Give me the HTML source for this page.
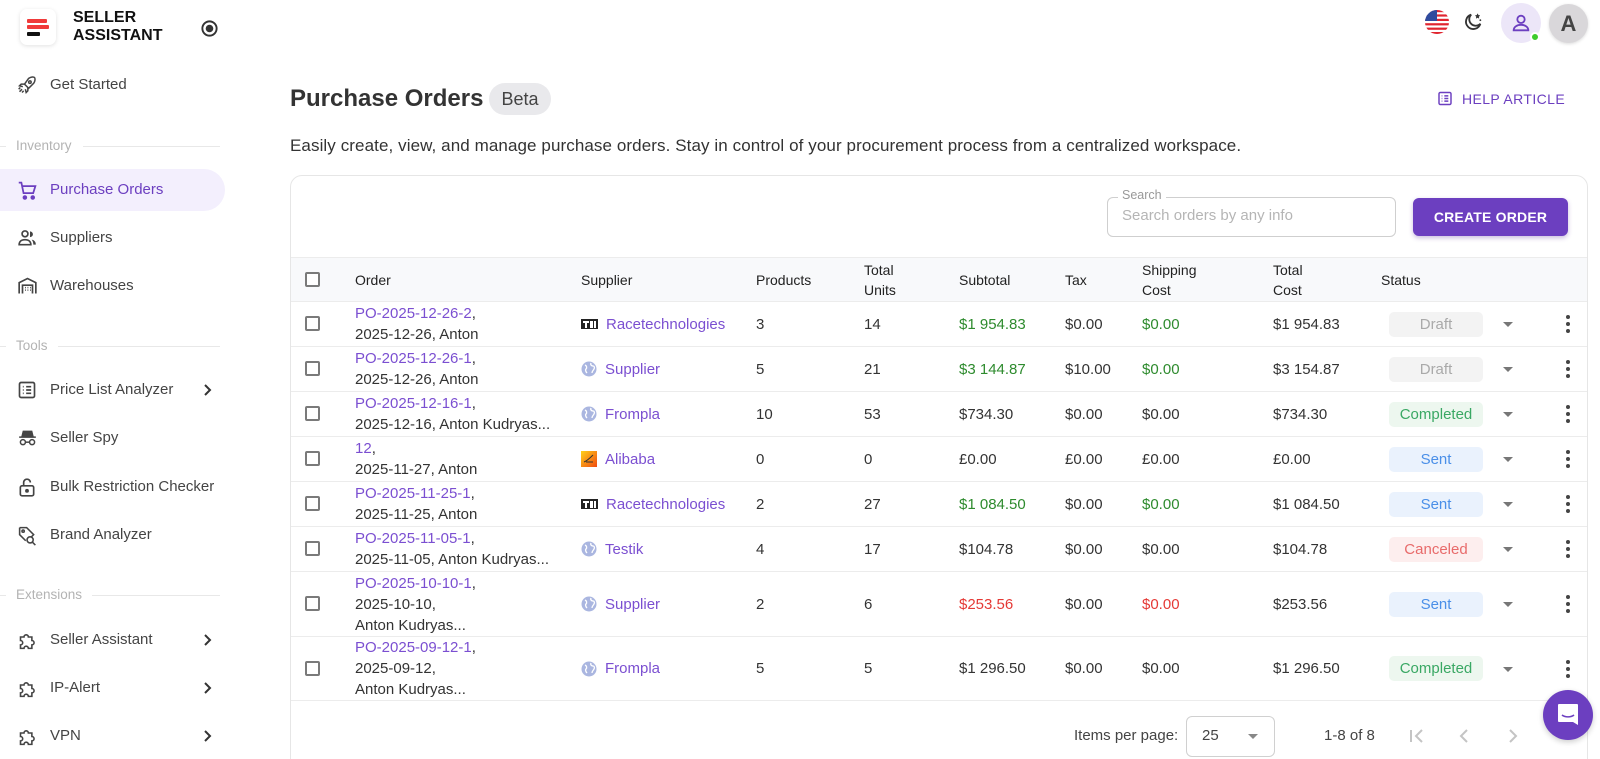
<!DOCTYPE html>
<html><head><meta charset="utf-8">
<style>
*{margin:0;padding:0;box-sizing:border-box}
html,body{width:1600px;height:759px;overflow:hidden;background:#fff}
body{font-family:"Liberation Sans",sans-serif;color:#333}
#root{position:relative;width:1600px;height:759px;overflow:hidden;background:#fff}
.a{position:absolute}
.t{position:absolute;line-height:20px;white-space:nowrap}
.nav{position:absolute;left:0;width:225px;height:42px;font-size:15px;color:#444}
.nav svg{position:absolute;left:17px;top:11px}
.nav span{position:absolute;left:50px;top:11px;line-height:20px}
.nav .chev{position:absolute;left:202px;top:14px}
.sec{position:absolute;left:0;width:220px;height:14px;font-size:13.5px;color:#b3b3b3}
.sec .l1{position:absolute;left:0;top:7px;width:6px;height:1px;background:#e8e8e8}
.sec .lab{position:absolute;left:16px;top:-2px;line-height:18px;background:#fff}
.sec .l2{position:absolute;top:7px;right:0;height:1px;background:#e8e8e8}
.card{position:absolute;left:290px;top:175px;width:1298px;height:620px;border:1px solid #e6e6e6;border-radius:12px;background:#fff}
.hdr{position:absolute;left:291px;top:257px;width:1296px;height:45px;background:#f8f9fb;border-top:1px solid #ececec;border-bottom:1px solid #ececec;font-size:14px;color:#222}
.row{position:absolute;left:291px;width:1296px;border-bottom:1px solid #ececec;font-size:15px;color:#333}
.c{position:absolute;top:0;bottom:0;display:flex;align-items:center;line-height:21px;white-space:nowrap}
.cb{position:absolute;left:14px;top:50%;margin-top:-8px;width:15px;height:15px;border:2px solid #7a7a7a;border-radius:2px}
.lk{color:#7b4fd1}
.g{color:#2e8b2e}
.r{color:#e53935}
.badge{position:absolute;left:1098px;top:50%;margin-top:-12.5px;width:94px;height:25px;border-radius:5px;font-size:15px;text-align:center;line-height:25px}
.draft{background:#f3f3f3;color:#a9a9a9}
.comp{background:#edf7ef;color:#3aa864}
.sent{background:#eaf2fd;color:#4a8fe8}
.canc{background:#fdeeee;color:#e86b6b}
.arr{position:absolute;left:1212px;top:50%;margin-top:-2px;width:0;height:0;border-left:5px solid transparent;border-right:5px solid transparent;border-top:5px solid #777}
.keb{position:absolute;left:1275px;top:50%;margin-top:-9px;width:4px;height:18px}
.keb i{display:block;width:4px;height:4px;border-radius:50%;background:#444;margin-bottom:3px}
.sup{display:flex;align-items:center}
.sup svg{margin-right:8px}
</style></head><body><div id="root">

<!-- Logo -->
<div class="a" style="left:20px;top:9px;width:36px;height:36px;border-radius:7px;background:#fff;box-shadow:0 1px 4px rgba(0,0,0,0.12)"></div>
<div class="a" style="left:27px;top:19px;width:20px;height:4px;background:#f03a3a;border-radius:1px"></div>
<div class="a" style="left:27px;top:25px;width:22px;height:4px;background:#f03a3a;border-radius:1px"></div>
<div class="a" style="left:27px;top:32px;width:13px;height:4px;background:#111;border-radius:1px"></div>
<div class="t" style="left:73px;top:9px;font-size:16px;font-weight:bold;color:#111;line-height:18px">SELLER<br>ASSISTANT</div>
<svg class="a" style="left:200px;top:19px" width="19" height="19" viewBox="0 0 20 20"><circle cx="10" cy="10" r="7.5" fill="none" stroke="#333" stroke-width="2"/><circle cx="10" cy="10" r="4" fill="#333"/></svg>

<!-- Sidebar nav -->
<div class="nav" style="top:64px"><svg width="20" height="20" viewBox="0 0 24 24" fill="none" stroke="#444" stroke-width="1.8"><path d="M14 4c3-2 6-2 7-1 1 1 1 4-1 7l-6 6-5-5z"/><circle cx="15.5" cy="8.5" r="1.5"/><path d="M9 11H5l-2 2 4 1M13 15v4l-2 2-1-4"/><path d="M6 17l-3 3M8 19l-2 2M4 15l-2 2"/></svg><span>Get Started</span></div>

<div class="sec" style="top:139px"><div class="l1"></div><div class="lab">Inventory</div><div class="l2" style="left:83px"></div></div>

<div class="a" style="left:0;top:169px;width:225px;height:42px;background:#f3effd;border-radius:0 21px 21px 0"></div>
<div class="nav" style="top:169px;color:#6c3fc0"><svg width="21" height="21" viewBox="0 0 24 24" fill="none" stroke="#6c3fc0" stroke-width="2"><path d="M2 3h3l2.5 12h11l2.5-8H6.5"/><circle cx="9" cy="20" r="1.6" fill="#6c3fc0"/><circle cx="18" cy="20" r="1.6" fill="#6c3fc0"/></svg><span>Purchase Orders</span></div>

<div class="nav" style="top:217px"><svg width="21" height="20" viewBox="0 0 24 24" fill="#444"><circle cx="9" cy="7" r="3.5" fill="none" stroke="#444" stroke-width="2"/><path d="M2 20c0-4 3-6 7-6s7 2 7 6z" fill="none" stroke="#444" stroke-width="2"/><path d="M15 4a3.5 3.5 0 010 7zM17 14c3 .5 5 2.5 5 6h-3c0-2.5-.8-4.5-2-6z"/></svg><span>Suppliers</span></div>

<div class="nav" style="top:265px"><svg width="21" height="20" viewBox="0 0 24 24" fill="none" stroke="#444" stroke-width="2"><path d="M2 21V8l10-5 10 5v13"/><path d="M6 21V11h12v10"/><path d="M9 14h1M12 14h1M15 14h1M9 17h1M12 17h1M15 17h1" stroke-width="1.8"/></svg><span>Warehouses</span></div>

<div class="sec" style="top:339px"><div class="l1"></div><div class="lab">Tools</div><div class="l2" style="left:58px"></div></div>

<div class="nav" style="top:369px"><svg width="20" height="20" viewBox="0 0 24 24" fill="none" stroke="#444" stroke-width="2"><rect x="3" y="3" width="18" height="18" rx="2"/><path d="M7 8h1M11 8h6M7 12h1M11 12h6M7 16h1M11 16h6"/></svg><span>Price List Analyzer</span><svg class="chev" width="12" height="14" viewBox="0 0 12 14"><path d="M3 2l5 5-5 5" fill="none" stroke="#333" stroke-width="2"/></svg></div>

<div class="nav" style="top:417px"><svg width="21" height="20" viewBox="0 0 24 24" fill="none" stroke="#444" stroke-width="1.8"><path d="M7 4h10l1.5 6h-13z" fill="#444"/><path d="M2 11h20"/><circle cx="6.5" cy="17" r="3"/><circle cx="17.5" cy="17" r="3"/><path d="M9.5 17h5"/></svg><span>Seller Spy</span></div>

<div class="nav" style="top:466px"><svg width="20" height="21" viewBox="0 0 24 24" fill="none" stroke="#444" stroke-width="2"><rect x="4" y="10" width="16" height="12" rx="2"/><path d="M8 10V6a4 4 0 018 0"/><circle cx="12" cy="16" r="1.3" fill="#444"/></svg><span>Bulk Restriction Checker</span></div>

<div class="nav" style="top:514px"><svg width="21" height="21" viewBox="0 0 24 24" fill="none" stroke="#444" stroke-width="1.8"><path d="M3 3h8l8 8-3 3M3 3v8l7 7"/><circle cx="7" cy="7" r="1.3"/><circle cx="15" cy="17" r="3.5"/><path d="M17.5 19.5L21 23"/></svg><span>Brand Analyzer</span></div>

<div class="sec" style="top:588px"><div class="l1"></div><div class="lab">Extensions</div><div class="l2" style="left:92px"></div></div>

<div class="nav" style="top:619px"><svg width="21" height="21" viewBox="0 0 24 24" fill="none" stroke="#444" stroke-width="1.8"><path d="M4 8h4a2.5 2.5 0 115 0h4v4a2.5 2.5 0 110 5v4h-4a2.5 2.5 0 10-5 0H4v-4a2.5 2.5 0 100-5z"/></svg><span>Seller Assistant</span><svg class="chev" width="12" height="14" viewBox="0 0 12 14"><path d="M3 2l5 5-5 5" fill="none" stroke="#333" stroke-width="2"/></svg></div>

<div class="nav" style="top:667px"><svg width="21" height="21" viewBox="0 0 24 24" fill="none" stroke="#444" stroke-width="1.8"><path d="M4 8h4a2.5 2.5 0 115 0h4v4a2.5 2.5 0 110 5v4h-4a2.5 2.5 0 10-5 0H4v-4a2.5 2.5 0 100-5z"/></svg><span>IP-Alert</span><svg class="chev" width="12" height="14" viewBox="0 0 12 14"><path d="M3 2l5 5-5 5" fill="none" stroke="#333" stroke-width="2"/></svg></div>

<div class="nav" style="top:715px"><svg width="21" height="21" viewBox="0 0 24 24" fill="none" stroke="#444" stroke-width="1.8"><path d="M4 8h4a2.5 2.5 0 115 0h4v4a2.5 2.5 0 110 5v4h-4a2.5 2.5 0 10-5 0H4v-4a2.5 2.5 0 100-5z"/></svg><span>VPN</span><svg class="chev" width="12" height="14" viewBox="0 0 12 14"><path d="M3 2l5 5-5 5" fill="none" stroke="#333" stroke-width="2"/></svg></div>

<!-- Top right -->
<svg class="a" style="left:1425px;top:10px" width="24" height="24" viewBox="0 0 24 24"><defs><clipPath id="fc"><circle cx="12" cy="12" r="12"/></clipPath></defs><g clip-path="url(#fc)"><rect width="24" height="24" fill="#fff"/><rect y="0" width="24" height="2.2" fill="#e0242f"/><rect y="4.4" width="24" height="2.2" fill="#e0242f"/><rect y="8.8" width="24" height="2.2" fill="#e0242f"/><rect y="13.2" width="24" height="2.2" fill="#e0242f"/><rect y="17.6" width="24" height="2.2" fill="#e0242f"/><rect y="22" width="24" height="2.2" fill="#e0242f"/><rect width="12" height="11" fill="#2f4b9e"/></g></svg>
<svg class="a" style="left:1462px;top:11px" width="22" height="22" viewBox="0 0 24 24" fill="none" stroke="#333" stroke-width="2"><path d="M10 4a8 8 0 1010 10A7 7 0 0110 4z"/><path d="M17 3l.8 1.7 1.7.3-1.3 1.2.3 1.8-1.5-.9-1.5.9.3-1.8L14.5 5l1.7-.3z" fill="#333" stroke-width="0.5"/><circle cx="20" cy="10" r="1" fill="#333" stroke="none"/></svg>
<div class="a" style="left:1501px;top:3px;width:40px;height:40px;border-radius:50%;background:#ece6f8"></div>
<svg class="a" style="left:1510px;top:12px" width="22" height="22" viewBox="0 0 24 24" fill="none" stroke="#6c3fc0" stroke-width="2"><circle cx="12" cy="8" r="4"/><path d="M4 20c0-4 4-6 8-6s8 2 8 6z"/></svg>
<div class="a" style="left:1530px;top:32px;width:10px;height:10px;border-radius:50%;background:#3dcc2c;border:2px solid #fff"></div>
<div class="a" style="left:1549px;top:4px;width:39px;height:39px;border-radius:50%;background:#d9d7da;box-shadow:0 1px 3px rgba(0,0,0,0.15);text-align:center;line-height:39px;font-size:22px;font-weight:bold;color:#444">A</div>

<!-- Title -->
<div class="t" style="left:290px;top:84px;font-size:24px;font-weight:bold;color:#333;line-height:30px">Purchase Orders</div>
<div class="a" style="left:489px;top:83px;width:62px;height:32px;border-radius:16px;background:#e9e9ec;font-size:18px;color:#444;text-align:center;line-height:32px">Beta</div>
<svg class="a" style="left:1437px;top:90px" width="16" height="17" viewBox="0 0 24 24" fill="none" stroke="#6c3fc0" stroke-width="2.2"><rect x="3" y="3" width="18" height="18" rx="2"/><path d="M7 8h1M11 8h6M7 12h1M11 12h6M7 16h1M11 16h6"/></svg>
<div class="t" style="left:1462px;top:89px;font-size:14px;color:#6c3fc0;letter-spacing:0.4px">HELP ARTICLE</div>
<div class="t" style="left:290px;top:136px;font-size:17px;color:#333;letter-spacing:0.09px">Easily create, view, and manage purchase orders. Stay in control of your procurement process from a centralized workspace.</div>

<!-- Card -->
<div class="card"></div>
<div class="a" style="left:1107px;top:197px;width:289px;height:40px;border:1px solid #cfcfcf;border-radius:6px"></div>
<div class="t" style="left:1118px;top:187px;font-size:12.5px;color:#999;background:#fff;padding:0 4px;line-height:16px">Search</div>
<div class="t" style="left:1122px;top:206px;font-size:15px;color:#b5b5b5">Search orders by any info</div>
<div class="a" style="left:1413px;top:198px;width:155px;height:38px;border-radius:6px;background:#6c3fc0;box-shadow:0 2px 5px rgba(80,40,150,0.3);color:#fff;font-size:14px;font-weight:bold;text-align:center;line-height:38px;letter-spacing:0.2px">CREATE ORDER</div>

<!-- Header -->
<div class="hdr">
<div class="cb" style="background:#fff"></div>
<div class="c" style="left:64px;line-height:20px">Order</div>
<div class="c" style="left:290px;line-height:20px">Supplier</div>
<div class="c" style="left:465px;line-height:20px">Products</div>
<div class="c" style="left:573px;line-height:20px">Total<br>Units</div>
<div class="c" style="left:668px;line-height:20px">Subtotal</div>
<div class="c" style="left:774px;line-height:20px">Tax</div>
<div class="c" style="left:851px;line-height:20px">Shipping<br>Cost</div>
<div class="c" style="left:982px;line-height:20px">Total<br>Cost</div>
<div class="c" style="left:1090px;line-height:20px">Status</div>
</div>

<!-- Rows -->
<div class="row" style="top:302px;height:45px">
<div class="cb"></div>
<div class="c" style="left:64px"><div><span class="lk">PO-2025-12-26-2</span>,<br>2025-12-26, Anton</div></div>
<div class="c sup" style="left:290px"><svg width="17" height="12" viewBox="0 0 17 12"><rect x="0" y="1" width="17" height="10" fill="#222"/><path d="M2 3h6v2H6v5H4V5H2zM9 3h3v7H9z" fill="#fff"/><path d="M13 3h2v7h-2z" fill="#fff"/></svg><span class="lk">Racetechnologies</span></div>
<div class="c" style="left:465px">3</div>
<div class="c" style="left:573px">14</div>
<div class="c g" style="left:668px">$1 954.83</div>
<div class="c" style="left:774px">$0.00</div>
<div class="c g" style="left:851px">$0.00</div>
<div class="c" style="left:982px">$1 954.83</div>
<div class="badge draft">Draft</div><div class="arr"></div><div class="keb"><i></i><i></i><i></i></div>
</div>

<div class="row" style="top:347px;height:45px">
<div class="cb"></div>
<div class="c" style="left:64px"><div><span class="lk">PO-2025-12-26-1</span>,<br>2025-12-26, Anton</div></div>
<div class="c sup" style="left:290px"><svg width="16" height="16" viewBox="0 0 16 16"><circle cx="8" cy="8" r="7.5" fill="#aab6e0"/><path d="M4 4c2 1 2 3 1 4s0 3 1 4M10 2c-1 2 1 3 2 3s2 1 1 3-2 2-2 4" fill="none" stroke="#fff" stroke-width="1.3"/></svg><span class="lk">Supplier</span></div>
<div class="c" style="left:465px">5</div>
<div class="c" style="left:573px">21</div>
<div class="c g" style="left:668px">$3 144.87</div>
<div class="c" style="left:774px">$10.00</div>
<div class="c g" style="left:851px">$0.00</div>
<div class="c" style="left:982px">$3 154.87</div>
<div class="badge draft">Draft</div><div class="arr"></div><div class="keb"><i></i><i></i><i></i></div>
</div>

<div class="row" style="top:392px;height:45px">
<div class="cb"></div>
<div class="c" style="left:64px"><div><span class="lk">PO-2025-12-16-1</span>,<br>2025-12-16, Anton Kudryas...</div></div>
<div class="c sup" style="left:290px"><svg width="16" height="16" viewBox="0 0 16 16"><circle cx="8" cy="8" r="7.5" fill="#aab6e0"/><path d="M4 4c2 1 2 3 1 4s0 3 1 4M10 2c-1 2 1 3 2 3s2 1 1 3-2 2-2 4" fill="none" stroke="#fff" stroke-width="1.3"/></svg><span class="lk">Frompla</span></div>
<div class="c" style="left:465px">10</div>
<div class="c" style="left:573px">53</div>
<div class="c" style="left:668px">$734.30</div>
<div class="c" style="left:774px">$0.00</div>
<div class="c" style="left:851px">$0.00</div>
<div class="c" style="left:982px">$734.30</div>
<div class="badge comp">Completed</div><div class="arr"></div><div class="keb"><i></i><i></i><i></i></div>
</div>

<div class="row" style="top:437px;height:45px">
<div class="cb"></div>
<div class="c" style="left:64px"><div><span class="lk">12</span>,<br>2025-11-27, Anton</div></div>
<div class="c sup" style="left:290px"><svg width="16" height="16" viewBox="0 0 16 16"><defs><linearGradient id="al" x1="0" y1="0" x2="1" y2="1"><stop offset="0" stop-color="#ffd21a"/><stop offset="1" stop-color="#f04a10"/></linearGradient></defs><rect width="16" height="16" fill="url(#al)"/><path d="M3 11c3-1 6-4 9-7M5 11h7" stroke="#333" stroke-width="1" fill="none"/></svg><span class="lk">Alibaba</span></div>
<div class="c" style="left:465px">0</div>
<div class="c" style="left:573px">0</div>
<div class="c" style="left:668px">£0.00</div>
<div class="c" style="left:774px">£0.00</div>
<div class="c" style="left:851px">£0.00</div>
<div class="c" style="left:982px">£0.00</div>
<div class="badge sent">Sent</div><div class="arr"></div><div class="keb"><i></i><i></i><i></i></div>
</div>

<div class="row" style="top:482px;height:45px">
<div class="cb"></div>
<div class="c" style="left:64px"><div><span class="lk">PO-2025-11-25-1</span>,<br>2025-11-25, Anton</div></div>
<div class="c sup" style="left:290px"><svg width="17" height="12" viewBox="0 0 17 12"><rect x="0" y="1" width="17" height="10" fill="#222"/><path d="M2 3h6v2H6v5H4V5H2zM9 3h3v7H9z" fill="#fff"/><path d="M13 3h2v7h-2z" fill="#fff"/></svg><span class="lk">Racetechnologies</span></div>
<div class="c" style="left:465px">2</div>
<div class="c" style="left:573px">27</div>
<div class="c g" style="left:668px">$1 084.50</div>
<div class="c" style="left:774px">$0.00</div>
<div class="c g" style="left:851px">$0.00</div>
<div class="c" style="left:982px">$1 084.50</div>
<div class="badge sent">Sent</div><div class="arr"></div><div class="keb"><i></i><i></i><i></i></div>
</div>

<div class="row" style="top:527px;height:45px">
<div class="cb"></div>
<div class="c" style="left:64px"><div><span class="lk">PO-2025-11-05-1</span>,<br>2025-11-05, Anton Kudryas...</div></div>
<div class="c sup" style="left:290px"><svg width="16" height="16" viewBox="0 0 16 16"><circle cx="8" cy="8" r="7.5" fill="#aab6e0"/><path d="M4 4c2 1 2 3 1 4s0 3 1 4M10 2c-1 2 1 3 2 3s2 1 1 3-2 2-2 4" fill="none" stroke="#fff" stroke-width="1.3"/></svg><span class="lk">Testik</span></div>
<div class="c" style="left:465px">4</div>
<div class="c" style="left:573px">17</div>
<div class="c" style="left:668px">$104.78</div>
<div class="c" style="left:774px">$0.00</div>
<div class="c" style="left:851px">$0.00</div>
<div class="c" style="left:982px">$104.78</div>
<div class="badge canc">Canceled</div><div class="arr"></div><div class="keb"><i></i><i></i><i></i></div>
</div>

<div class="row" style="top:572px;height:65px">
<div class="cb"></div>
<div class="c" style="left:64px"><div><span class="lk">PO-2025-10-10-1</span>,<br>2025-10-10,<br>Anton Kudryas...</div></div>
<div class="c sup" style="left:290px"><svg width="16" height="16" viewBox="0 0 16 16"><circle cx="8" cy="8" r="7.5" fill="#aab6e0"/><path d="M4 4c2 1 2 3 1 4s0 3 1 4M10 2c-1 2 1 3 2 3s2 1 1 3-2 2-2 4" fill="none" stroke="#fff" stroke-width="1.3"/></svg><span class="lk">Supplier</span></div>
<div class="c" style="left:465px">2</div>
<div class="c" style="left:573px">6</div>
<div class="c r" style="left:668px">$253.56</div>
<div class="c" style="left:774px">$0.00</div>
<div class="c r" style="left:851px">$0.00</div>
<div class="c" style="left:982px">$253.56</div>
<div class="badge sent">Sent</div><div class="arr"></div><div class="keb"><i></i><i></i><i></i></div>
</div>

<div class="row" style="top:637px;height:64px">
<div class="cb"></div>
<div class="c" style="left:64px"><div><span class="lk">PO-2025-09-12-1</span>,<br>2025-09-12,<br>Anton Kudryas...</div></div>
<div class="c sup" style="left:290px"><svg width="16" height="16" viewBox="0 0 16 16"><circle cx="8" cy="8" r="7.5" fill="#aab6e0"/><path d="M4 4c2 1 2 3 1 4s0 3 1 4M10 2c-1 2 1 3 2 3s2 1 1 3-2 2-2 4" fill="none" stroke="#fff" stroke-width="1.3"/></svg><span class="lk">Frompla</span></div>
<div class="c" style="left:465px">5</div>
<div class="c" style="left:573px">5</div>
<div class="c" style="left:668px">$1 296.50</div>
<div class="c" style="left:774px">$0.00</div>
<div class="c" style="left:851px">$0.00</div>
<div class="c" style="left:982px">$1 296.50</div>
<div class="badge comp">Completed</div><div class="arr"></div><div class="keb"><i></i><i></i><i></i></div>
</div>

<!-- Footer / pagination -->
<div class="t" style="left:1074px;top:726px;font-size:15px;color:#444">Items per page:</div>
<div class="a" style="left:1186px;top:716px;width:89px;height:41px;border:1px solid #d0d0d0;border-radius:6px"></div>
<div class="t" style="left:1202px;top:726px;font-size:15px;color:#444">25</div>
<div class="a" style="left:1248px;top:734px;width:0;height:0;border-left:5px solid transparent;border-right:5px solid transparent;border-top:5px solid #888"></div>
<div class="t" style="left:1324px;top:726px;font-size:15px;color:#444">1-8 of 8</div>
<svg class="a" style="left:1408px;top:728px" width="18" height="16" viewBox="0 0 18 16"><path d="M3 2v12M14 2l-6 6 6 6" fill="none" stroke="#c4c4c4" stroke-width="2"/></svg>
<svg class="a" style="left:1458px;top:728px" width="12" height="16" viewBox="0 0 12 16"><path d="M9 2L3 8l6 6" fill="none" stroke="#c4c4c4" stroke-width="2"/></svg>
<svg class="a" style="left:1507px;top:728px" width="12" height="16" viewBox="0 0 12 16"><path d="M3 2l6 6-6 6" fill="none" stroke="#c4c4c4" stroke-width="2"/></svg>

<!-- Chat bubble -->
<div class="a" style="left:1543px;top:690px;width:50px;height:50px;border-radius:50%;background:#6c3fc0;box-shadow:0 2px 6px rgba(0,0,0,0.2)"></div>
<svg class="a" style="left:1556px;top:702px" width="24" height="26" viewBox="0 0 24 26"><path d="M3 2h18a1 1 0 011 1v20l-5-3H3a1 1 0 01-1-1V3a1 1 0 011-1z" fill="#fff"/><path d="M6 13c3 2.5 9 2.5 12 0" fill="none" stroke="#6c3fc0" stroke-width="1.6"/></svg>

</div></body></html>
